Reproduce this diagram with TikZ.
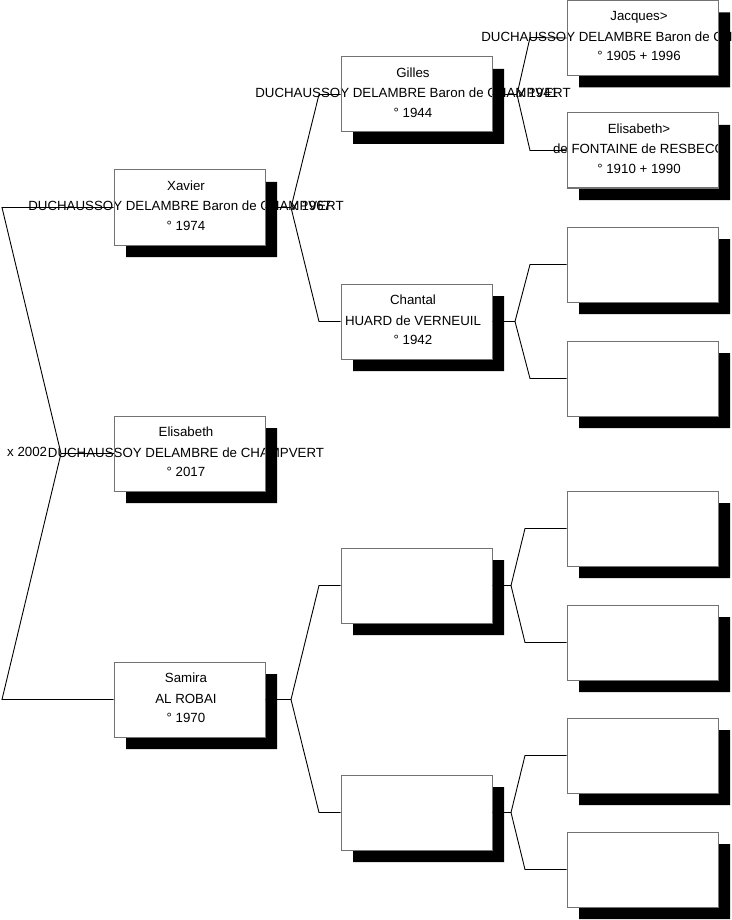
\documentclass[tikz,border=0pt]{standalone}
\usepackage{fontspec}
\setmainfont{Liberation Sans}
\tikzset{
  personbox/.style={draw=black!55, line width=1pt, rectangle, minimum width=151pt, minimum height=75pt, inner sep=0pt},
  ptext/.style={anchor=base, inner sep=0pt, font=\fontsize{13.3}{16}\selectfont},
  conn/.style={draw=black, line width=0.9pt},
  shadowfill/.style={fill=black},
}
% name, left x, top y, three lines
\newcommand\personfull[6]{%
  \node[ptext] (#1-a) at (#2+72,#3+20.5) {#4};
  \node[ptext] (#1-b) at (#2+72,#3+41) {#5};
  \node[ptext] (#1-c) at (#2+72,#3+60.5) {#6};
  \fill[shadowfill] (#2+151,#3+12) rectangle (#2+163,#3+87) (#2+12,#3+75) rectangle (#2+151,#3+87);
  \node[personbox] (#1) at (#2+75.5,#3+37.5) {};
}
\newcommand\personempty[3]{%
  \fill[shadowfill] (#2+151,#3+12) rectangle (#2+163,#3+87) (#2+12,#3+75) rectangle (#2+151,#3+87);
  \node[personbox] (#1) at (#2+75.5,#3+37.5) {};
}
\begin{document}
\begin{tikzpicture}[x=1pt,y=-1pt]
\useasboundingbox (0,0) rectangle (731,920);
\clip (0,0) rectangle (731,920);
\fill[white] (0,0) rectangle (731,920);
% column 1
\personfull{xavier}{114}{170}{Xavier}{DUCHAUSSOY DELAMBRE Baron de CHAMPVERT}{° 1974}
\personfull{elisabeth}{114}{416}{Elisabeth}{DUCHAUSSOY DELAMBRE de CHAMPVERT}{° 2017}
\personfull{samira}{114}{662}{Samira}{AL ROBAI}{° 1970}
% column 2
\personfull{gilles}{341}{57}{Gilles}{DUCHAUSSOY DELAMBRE Baron de CHAMPVERT}{° 1944}
\personfull{chantal}{341}{284}{Chantal}{HUARD de VERNEUIL}{° 1942}
\personempty{sf}{341}{548}
\personempty{sm}{341}{775}
% column 3
\personfull{jacques}{567}{0.5}{Jacques>}{DUCHAUSSOY DELAMBRE Baron de CHAMPVERT}{° 1905 + 1996}
\personfull{elisabethf}{567}{113}{Elisabeth>}{de FONTAINE de RESBECQ}{° 1910 + 1990}
\personempty{cf}{567}{227}
\personempty{cm}{567}{341}
\personempty{sff}{567}{491}
\personempty{sfm}{567}{605}
\personempty{smf}{567}{718}
\personempty{smm}{567}{832}
% marriage labels
\node[ptext, anchor=base west] (m2002) at (7,456.5) {x 2002};
\node[ptext, anchor=base west] (m1967) at (291,211) {x 1967};
\node[ptext, anchor=base west] (m1941) at (518,98) {x 1941};
% connectors: root
\coordinate (rt) at (61,453.5);
\coordinate (rtA) at (2,207.5);
\coordinate (rtB) at (2,699.5);
\draw[conn] (xavier.west) -- (rtA) -- (rt) -- (rtB) -- (samira.west);
\draw[conn] (rt) -- (elisabeth.west);
% Xavier's parents
\coordinate (jx) at (291,207.5);
\coordinate (jxa) at (319,94.5);
\coordinate (jxb) at (319,321.5);
\draw[conn] (xavier.east) -- (jx) -- (jxa) -- (gilles.west);
\draw[conn] (jx) -- (jxb) -- (chantal.west);
% Samira's parents
\coordinate (js) at (291,699.5);
\coordinate (jsa) at (319,585.5);
\coordinate (jsb) at (319,812.5);
\draw[conn] (samira.east) -- (js) -- (jsa) -- (sf.west);
\draw[conn] (js) -- (jsb) -- (sm.west);
% Gilles's parents
\coordinate (jg) at (517,94.5);
\coordinate (jga) at (530,37.5);
\coordinate (jgb) at (530,150.5);
\draw[conn] (gilles.east) -- (jg) -- (jga) -- (jacques.west);
\draw[conn] (jg) -- (jgb) -- (elisabethf.west);
% Chantal's parents
\coordinate (jc) at (515,321.5);
\coordinate (jca) at (530,264.5);
\coordinate (jcb) at (530,378.5);
\draw[conn] (chantal.east) -- (jc) -- (jca) -- (cf.west);
\draw[conn] (jc) -- (jcb) -- (cm.west);
% Samira's father's parents
\coordinate (jf) at (511,585.5);
\coordinate (jfa) at (525,528.5);
\coordinate (jfb) at (525,642.5);
\draw[conn] (sf.east) -- (jf) -- (jfa) -- (sff.west);
\draw[conn] (jf) -- (jfb) -- (sfm.west);
% Samira's mother's parents
\coordinate (jm) at (511,812.5);
\coordinate (jma) at (525,755.5);
\coordinate (jmb) at (525,869.5);
\draw[conn] (sm.east) -- (jm) -- (jma) -- (smf.west);
\draw[conn] (jm) -- (jmb) -- (smm.west);
\end{tikzpicture}
\end{document}
